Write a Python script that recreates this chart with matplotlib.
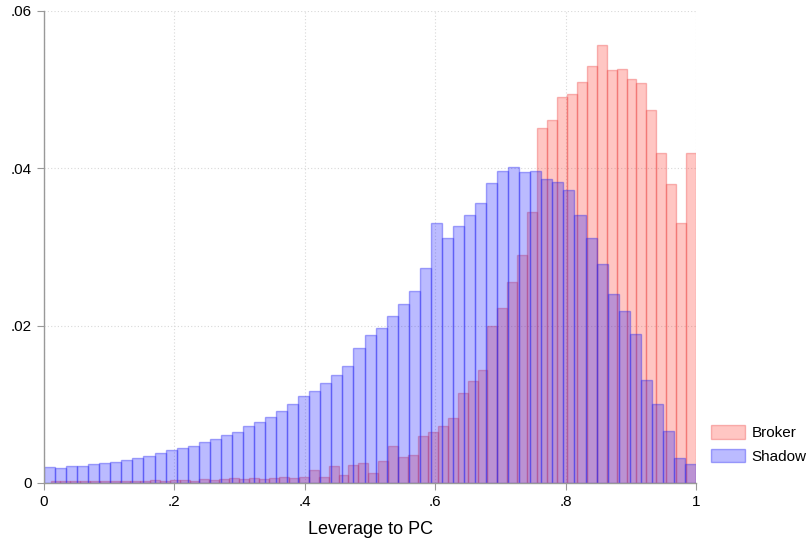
"""
Leverage to PC - overlaid histograms, broker vs shadow
"""

import numpy as np
import matplotlib
matplotlib.use("Agg")
import matplotlib.pyplot as plt
from matplotlib.patches import Patch

plt.rcParams["font.family"] = ["Liberation Sans", "DejaVu Sans"]

# ── Data (bin densities) ───────────────────────────────────────────────────
series_names = ["Broker", "Shadow"]

# Shadow: 59 bins over [0, 1]
shadow_range = (0.0, 1.0)
shadow_values = [
    0.0020, 0.0019, 0.0021, 0.0022, 0.0024, 0.0025, 0.0027, 0.0029, 0.0032, 0.0034,
    0.0038, 0.0042, 0.0045, 0.0047, 0.0052, 0.0056, 0.0061, 0.0065, 0.0072, 0.0077,
    0.0084, 0.0092, 0.0100, 0.0110, 0.0117, 0.0127, 0.0137, 0.0149, 0.0172, 0.0188,
    0.0197, 0.0212, 0.0228, 0.0244, 0.0273, 0.0331, 0.0311, 0.0326, 0.0341, 0.0356,
    0.0381, 0.0397, 0.0401, 0.0395, 0.0396, 0.0387, 0.0382, 0.0372, 0.0341, 0.0312,
    0.0278, 0.0240, 0.0219, 0.0190, 0.0131, 0.0100, 0.0066, 0.0032, 0.0024,
]

# Broker: 65 bins over [0.01, 1]
broker_range = (0.01, 1.0)
broker_values = [
    0.0002, 0.0002, 0.0002, 0.0002, 0.0003, 0.0002, 0.0003, 0.0003, 0.0002, 0.0003,
    0.0004, 0.0003, 0.0004, 0.0004, 0.0003, 0.0005, 0.0004, 0.0005, 0.0006, 0.0005,
    0.0006, 0.0005, 0.0006, 0.0007, 0.0006, 0.0007, 0.0017, 0.0007, 0.0022, 0.0010,
    0.0023, 0.0025, 0.0013, 0.0028, 0.0047, 0.0033, 0.0036, 0.0060, 0.0065, 0.0072,
    0.0082, 0.0115, 0.0130, 0.0144, 0.0200, 0.0222, 0.0255, 0.0290, 0.0345, 0.0451,
    0.0461, 0.0491, 0.0494, 0.0510, 0.0530, 0.0557, 0.0525, 0.0526, 0.0513, 0.0508,
    0.0474, 0.0420, 0.0380, 0.0331, 0.0420,
]

x_ticks = [0, 0.2, 0.4, 0.6, 0.8, 1.0]
x_tick_labels = ["0", ".2", ".4", ".6", ".8", "1"]
y_ticks = [0, 0.02, 0.04, 0.06]
y_tick_labels = ["0", ".02", ".04", ".06"]

# ── Styles ─────────────────────────────────────────────────────────────────
RED_FILL = (1.0, 0.15, 0.10, 0.26)
RED_EDGE = (0.92, 0.25, 0.25, 0.35)
BLUE_FILL = (0.05, 0.05, 1.0, 0.28)
BLUE_EDGE = (0.15, 0.15, 0.95, 0.38)


def draw_hist(ax, values, rng, face, edge):
    edges = np.linspace(rng[0], rng[1], len(values) + 1)
    ax.hist(edges[:-1], bins=edges, weights=values,
            facecolor=face, edgecolor=edge, linewidth=1.0)


fig = plt.figure(figsize=(8.12, 5.46), dpi=100)
ax = fig.add_axes([0.0542, 0.1154, 0.803, 0.8646])

draw_hist(ax, broker_values, broker_range, RED_FILL, RED_EDGE)
draw_hist(ax, shadow_values, shadow_range, BLUE_FILL, BLUE_EDGE)

ax.set_xlim(0, 1)
ax.set_ylim(0, 0.06)
ax.set_xticks(x_ticks)
ax.set_xticklabels(x_tick_labels)
ax.set_yticks(y_ticks)
ax.set_yticklabels(y_tick_labels)
ax.tick_params(labelsize=11, length=5, color="#999999", width=0.8, pad=4)

ax.grid(True, linestyle=(0, (1, 2)), color="#d8d8d8", linewidth=0.8)
ax.set_axisbelow(True)
for side in ["top", "right"]:
    ax.spines[side].set_visible(False)
for side in ["left", "bottom"]:
    ax.spines[side].set_color("#999999")
    ax.spines[side].set_linewidth(1.0)

ax.set_xlabel("Leverage to PC", fontsize=13, labelpad=8)

handles = [
    Patch(facecolor=RED_FILL, edgecolor=RED_EDGE, label=series_names[0]),
    Patch(facecolor=BLUE_FILL, edgecolor=BLUE_EDGE, label=series_names[1]),
]
fig.legend(handles=handles, loc="center left", bbox_to_anchor=(0.876, 0.186),
           frameon=False, fontsize=11, handlelength=2.2, handleheight=1.0,
           handletextpad=0.45, labelspacing=0.55, borderpad=0,
           borderaxespad=0)

fig.savefig("out.png", dpi=100)
